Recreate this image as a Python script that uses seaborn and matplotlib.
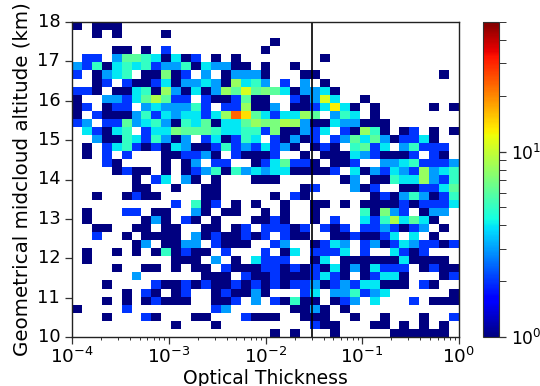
import numpy as np
import pandas as pd
import matplotlib
matplotlib.use('Agg')
import matplotlib.pyplot as plt
from matplotlib.colors import LogNorm
import seaborn as sns

# counts per cell, top row is 18 km, left column is 1e-4
counts = [
    [1,0,1,1,1,0,0,0,0,0, 0,0,0,0,0,0,0,0,0,0, 0,0,0,0,0,0,0,0,0,0, 0,0,0,0,0,0,0,0,0],
    [0,0,1,0,1,0,0,0,0,1, 0,0,0,0,0,0,0,0,0,0, 0,0,0,0,0,0,0,0,0,0, 0,0,0,0,0,0,0,0,0],
    [0,0,0,0,0,0,0,0,0,0, 0,0,0,0,0,0,0,0,0,0, 1,0,0,0,0,0,0,0,0,0, 0,0,0,0,0,0,0,0,0],
    [0,0,0,0,1,1,0,1,0,2, 0,0,0,0,0,0,0,0,0,1, 0,0,0,0,0,0,0,0,0,0, 0,0,0,0,0,0,0,0,0],
    [0,2,2,0,3,6,6,5,4,1, 4,1,2,0,1,0,1,0,0,0, 0,0,0,0,0,1,0,0,0,0, 0,0,0,0,0,0,0,0,0],
    [3,2,5,1,4,5,4,5,2,3, 3,5,1,4,3,3,1,1,0,1, 0,0,1,0,0,0,0,0,0,0, 0,0,0,0,0,0,0,0,0],
    [2,0,1,3,4,5,0,1,1,7, 1,2,0,3,0,1,3,3,3,1, 0,0,0,1,1,0,0,0,0,0, 0,0,0,0,0,0,0,1,0],
    [0,0,1,2,0,2,1,1,2,4, 1,3,3,4,3,1,8,4,5,3, 0,2,0,3,0,1,0,0,0,0, 0,0,0,0,0,0,0,0,0],
    [2,2,1,0,1,1,4,5,1,8, 3,1,4,1,3,8,6,11,6,7, 6,4,1,3,3,4,1,0,0,0, 0,0,0,0,0,0,0,0,0],
    [1,0,0,3,3,2,4,6,9,6, 2,2,0,2,1,1,2,6,1,1, 0,0,2,1,3,11,4,0,0,1, 0,0,0,0,0,0,0,0,0],
    [1,2,0,1,2,2,0,3,4,3, 3,3,5,2,0,2,2,8,1,1, 3,0,1,1,2,4,13,4,1,0, 1,0,0,0,0,0,1,0,1],
    [1,0,2,1,1,1,3,5,2,4, 3,4,4,2,4,8,23,14,6,4, 2,4,4,8,6,0,3,5,4,0, 1,0,0,0,0,0,0,0,0],
    [2,3,0,2,2,6,3,4,5,3, 1,5,4,6,1,4,4,6,8,7, 7,9,8,3,1,1,4,3,3,1, 1,1,0,0,0,0,0,0,0],
    [0,4,2,1,4,5,0,2,4,4, 7,6,6,6,5,4,4,5,5,2, 7,1,1,3,2,4,0,2,1,8, 5,1,0,1,2,0,1,0,1],
    [0,0,3,1,1,5,4,2,5,3, 1,3,0,2,4,1,2,5,4,0, 2,1,3,1,2,0,2,3,6,4, 6,3,1,2,2,4,1,0,0],
    [0,1,0,2,4,5,2,1,2,1, 4,3,1,1,2,5,2,3,2,4, 2,3,1,0,1,2,1,0,5,6, 2,4,0,3,5,2,2,2,0],
    [0,1,0,2,0,2,0,0,0,1, 1,2,2,3,1,0,2,1,1,1, 2,0,0,1,0,1,1,1,4,3, 2,1,1,1,2,0,2,1,0],
    [0,0,0,2,1,0,0,0,0,1, 0,1,3,0,2,2,0,0,1,2, 4,6,2,2,1,0,1,1,2,0, 0,3,3,4,5,2,2,2,3],
    [0,0,0,0,1,2,1,1,0,1, 0,1,2,3,5,1,5,3,4,3, 4,4,1,1,1,1,2,0,4,1, 3,2,4,3,2,8,3,4,5],
    [0,0,0,0,0,0,1,0,2,4, 0,3,1,0,1,0,0,0,1,1, 1,0,0,0,0,0,0,1,3,0, 1,1,5,4,4,8,3,2,5],
    [0,0,0,0,0,0,1,1,0,0, 1,0,0,1,1,0,0,0,0,0, 0,0,0,1,2,0,0,0,3,1, 2,0,0,1,1,2,2,4,6],
    [0,0,1,0,0,1,2,1,1,0, 0,0,0,1,1,0,0,0,0,0, 1,0,2,1,0,0,0,0,0,0, 1,2,1,3,5,3,1,2,5],
    [0,0,0,0,0,0,0,0,0,0, 2,0,5,1,2,0,1,0,1,0, 0,1,0,0,1,1,0,1,0,1, 1,1,1,2,1,2,2,2,4],
    [0,1,0,0,0,2,2,0,1,1, 0,0,3,1,0,1,1,0,0,1, 0,1,0,0,1,0,0,0,0,5, 1,7,3,2,0,1,3,3,0],
    [0,1,0,0,0,0,0,1,3,1, 0,2,1,0,1,0,0,0,1,1, 2,1,0,0,1,0,2,0,0,4, 2,5,9,4,6,4,1,0,0],
    [0,0,1,1,0,0,1,1,0,1, 1,0,0,1,1,0,1,2,0,2, 2,2,1,2,0,2,1,2,0,2, 2,3,2,1,2,3,0,1,0],
    [0,0,2,0,0,1,0,1,1,1, 1,0,3,1,2,1,1,2,1,2, 0,2,1,1,0,0,1,1,2,1, 1,2,4,0,4,0,1,0,0],
    [0,0,0,0,0,0,1,3,0,1, 1,3,3,0,2,1,1,1,0,0, 2,3,0,0,1,2,4,3,0,2, 3,1,2,4,3,2,2,1,2],
    [0,1,0,0,1,0,1,0,1,5, 1,2,1,1,0,2,0,0,0,2, 0,1,4,0,2,2,2,4,0,2, 0,0,4,2,1,2,0,0,0],
    [0,1,0,0,0,0,0,0,0,0, 1,1,1,0,3,0,1,0,4,2, 2,2,0,0,1,4,0,1,1,1, 1,1,1,4,1,1,1,1,0],
    [0,0,0,0,1,0,0,1,1,0, 1,0,1,1,0,2,1,1,1,2, 2,1,2,1,2,1,4,1,3,1, 4,2,2,2,0,1,2,1,1],
    [0,0,0,0,0,0,3,0,0,0, 0,0,0,1,1,1,0,2,1,1, 2,1,1,1,2,4,2,1,0,1, 2,4,4,1,0,0,0,1,2],
    [0,0,0,1,0,0,0,0,2,1, 1,2,1,2,1,1,2,1,2,1, 2,1,2,2,3,1,2,3,2,4, 4,1,1,1,0,2,1,0,0],
    [0,0,0,0,0,1,0,2,1,0, 1,2,0,0,1,2,1,1,3,1, 0,0,0,2,4,0,3,3,5,2, 3,4,0,0,0,0,0,0,1],
    [0,0,0,1,0,1,0,1,2,1, 1,1,0,0,1,1,2,0,3,0, 2,1,5,1,1,0,1,2,3,0, 4,0,0,0,2,0,1,1,1],
    [1,0,0,0,0,2,0,0,0,0, 0,0,0,0,2,3,0,0,0,0, 0,0,1,1,3,1,0,1,0,0, 0,0,0,0,0,0,0,0,0],
    [0,0,0,1,0,0,0,2,1,0, 0,0,1,1,0,0,0,2,1,1, 1,0,0,1,1,1,0,0,1,0, 0,1,0,0,0,1,0,0,2],
    [0,0,0,0,0,0,0,0,0,0, 1,0,0,0,1,0,0,0,0,0, 0,0,0,0,2,1,1,0,0,0, 1,1,0,1,0,1,0,1,0],
    [0,0,0,0,0,0,0,0,0,0, 0,0,0,0,0,0,0,0,0,0, 1,0,1,0,0,0,1,0,0,0, 0,0,1,1,1,1,1,1,0],
]

x_decades = [-4, -3, -2, -1, 0]
y_ticks = [10, 11, 12, 13, 14, 15, 16, 17, 18]
cut_thickness = 0.03
vmin, vmax = 1, 50

sns.set_style('ticks')
plt.rcParams['font.family'] = ['DejaVu Sans']
plt.rcParams['text.color'] = 'black'
plt.rcParams['axes.labelcolor'] = 'black'

df = pd.DataFrame(counts)
n_y, n_x = df.shape


def x_pos(v):
    return (np.log10(v) + 4) / 4 * n_x


def y_pos(v):
    return (18 - np.asarray(v)) / 8 * n_y


fig = plt.figure(figsize=(5.4, 3.86), dpi=100)
ax = fig.add_axes([72 / 540, 1 - 337 / 386, 387 / 540, 315 / 386])
cax = fig.add_axes([483 / 540, 1 - 337 / 386, 16 / 540, 315 / 386])

sns.heatmap(df, ax=ax, cbar_ax=cax, cmap='jet', mask=df == 0,
            norm=LogNorm(vmin=vmin, vmax=vmax))

ax.axvline(x_pos(cut_thickness), color='black', linewidth=1.2)

major = [10.0 ** d for d in x_decades]
minor = [m * 10.0 ** d for d in x_decades[:-1] for m in range(2, 10)]
ax.set_xticks([x_pos(v) for v in major])
ax.set_xticklabels(['$\\mathdefault{10^{%d}}$' % d for d in x_decades], rotation=0)
ax.set_xticks([x_pos(v) for v in minor], minor=True)
ax.set_yticks(y_pos(y_ticks))
ax.set_yticklabels([str(v) for v in y_ticks], rotation=0)
ax.set_xlabel('Optical Thickness', fontsize=13.5, labelpad=1.5, color='black')
ax.set_ylabel('Geometrical midcloud altitude (km)', fontsize=14.3, labelpad=4, color='black')
ax.tick_params(axis='x', which='major', labelsize=13.3, length=5, width=0.9, pad=2, color='#333333', labelcolor='black')
ax.tick_params(axis='y', which='major', labelsize=12.8, length=5, width=0.9, pad=3.5, color='#333333', labelcolor='black')
ax.tick_params(axis='x', which='minor', length=2.5, width=0.7, color='#333333')
for spine in ax.spines.values():
    spine.set_visible(True)
    spine.set_color('#222222')
    spine.set_linewidth(1)

cb = ax.collections[0].colorbar
cb.outline.set_linewidth(0.8)
cb.outline.set_edgecolor('#333333')
cax.tick_params(which='major', labelsize=12.3, length=5, width=0.9, pad=3.5, color='#333333', labelcolor='black')
cax.tick_params(which='minor', length=5, width=0.7, color='#333333')

fig.savefig('out.png', dpi=100)
